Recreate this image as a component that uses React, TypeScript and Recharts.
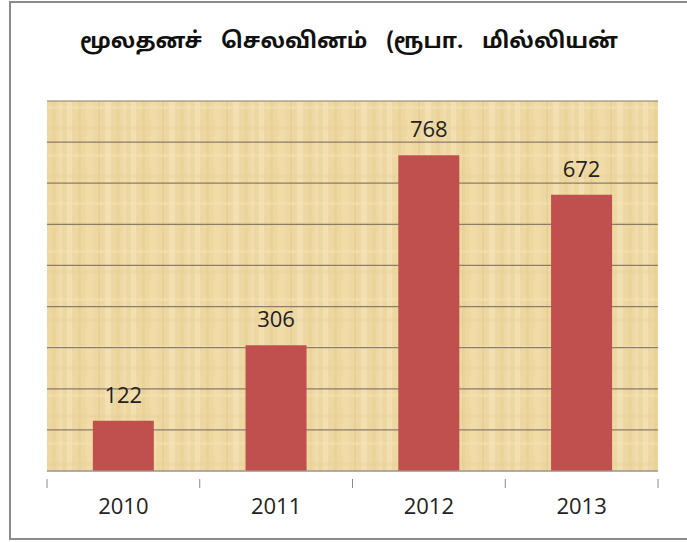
import { BarChart, Bar, XAxis, YAxis, CartesianGrid, LabelList } from "recharts";

const years = ["2010", "2011", "2012", "2013"];
const spending = [122, 306, 768, 672];
const yTicks = [0, 100, 200, 300, 400, 500, 600, 700, 800, 900];

const data = years.map((year, i) => ({ year, value: spending[i] }));

const chartTitle = "மூலதனச் செலவினம் (ரூபா. மில்லியன்";

const YearTick = (props: any) => {
  const { x, y, payload, index } = props;
  const half = payload?.offset || 76;
  return (
    <g>
      <line x1={x - half} y1={y} x2={x - half} y2={y + 9} stroke="#8a8a8a" />
      {index === years.length - 1 && (
        <line x1={x + half} y1={y} x2={x + half} y2={y + 9} stroke="#8a8a8a" />
      )}
      <text x={x} y={y + 35} textAnchor="middle" fontSize={22} fill="#222"
        fontFamily="'Open Sans', 'Noto Sans', sans-serif">
        {payload.value}
      </text>
    </g>
  );
};

export default function App() {
  return (
    <div style={{ position: "absolute", left: 0, top: 0, width: 687, height: 542, background: "#fff" }}>
      <div style={{
        position: "absolute", left: 9, top: 1, width: 690, height: 535,
        border: "2px solid #8c8c8c", boxSizing: "content-box",
      }} />
      <div style={{
        position: "absolute", left: 0, top: 29, width: 698, textAlign: "center",
        fontFamily: "'Noto Sans Tamil', 'Latha', 'Noto Sans', sans-serif",
        fontWeight: "bold", fontSize: 22, color: "#111", whiteSpace: "pre",
        wordSpacing: 13,
      }}>
        {chartTitle}
      </div>
      <BarChart width={687} height={542} data={data}
        margin={{ top: 101, right: 29, bottom: 41, left: 47 }}
        barCategoryGap="30%">
        <defs>
          <pattern id="papyrus" patternUnits="userSpaceOnUse" width="64" height="48">
            <rect width="64" height="48" fill="#eed8a2" />
            <rect x="3" width="5" height="48" fill="#f5e5bc" opacity="0.6" />
            <rect x="14" width="3" height="48" fill="#e4c98c" opacity="0.45" />
            <rect x="22" width="7" height="48" fill="#f3dfae" opacity="0.5" />
            <rect x="34" width="2" height="48" fill="#dfc285" opacity="0.4" />
            <rect x="41" width="6" height="48" fill="#f6e7c2" opacity="0.5" />
            <rect x="52" width="4" height="48" fill="#e6cc92" opacity="0.45" />
            <rect x="59" width="3" height="48" fill="#f4e2b4" opacity="0.5" />
            <rect y="10" width="64" height="3" fill="#f5e4ba" opacity="0.35" />
            <rect y="30" width="64" height="4" fill="#e6cd95" opacity="0.3" />
          </pattern>
        </defs>
        <CartesianGrid vertical={false} stroke="#8b7d68" strokeWidth={1.2} fill="url(#papyrus)" />
        <XAxis dataKey="year" axisLine={{ stroke: "#a0a0a0" }} tickLine={false}
          tick={<YearTick />} height={30} interval={0} />
        <YAxis hide domain={[0, 900]} ticks={yTicks} />
        <Bar dataKey="value" fill="#c0504d" isAnimationActive={false}>
          <LabelList dataKey="value" position="top" offset={18} fontSize={22} fill="#222"
            fontFamily="'Open Sans', 'Noto Sans', sans-serif" />
        </Bar>
      </BarChart>
    </div>
  );
}
